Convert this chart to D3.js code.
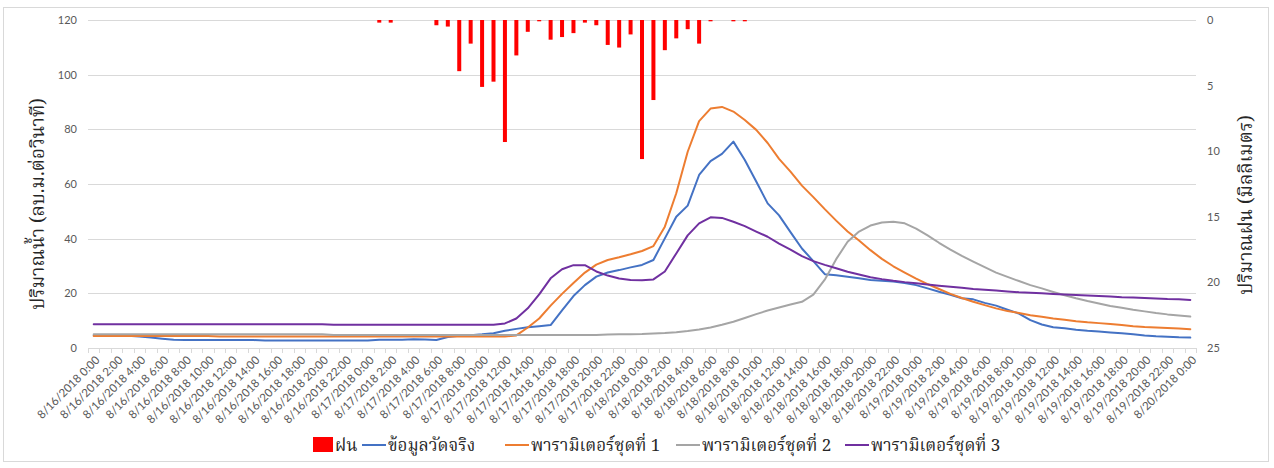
<!DOCTYPE html>
<html>
<head>
<meta charset="utf-8">
<script src="https://cdn.jsdelivr.net/npm/d3@7"></script>
<style>
  html, body { margin: 0; padding: 0; background: #fff; }
  svg { display: block; }
  .num { font-family: Lato, "Liberation Sans", sans-serif; fill: #595959; }
  .thai { font-family: "Noto Serif Thai", "Noto Sans Thai", "Loma", "Garuda", "Norasi", "Tlwg Typo", "Noto Sans", "DejaVu Sans", serif; fill: #262626; }
</style>
</head>
<body>
<svg id="chart" width="1274" height="468"></svg>
<script>
// Hourly flow (m3/s) and rainfall (mm), 8/16/2018 0:00 → 8/20/2018 0:00
const tickLabels = [
  "8/16/2018 0:00","8/16/2018 2:00","8/16/2018 4:00","8/16/2018 6:00","8/16/2018 8:00","8/16/2018 10:00",
  "8/16/2018 12:00","8/16/2018 14:00","8/16/2018 16:00","8/16/2018 18:00","8/16/2018 20:00","8/16/2018 22:00",
  "8/17/2018 0:00","8/17/2018 2:00","8/17/2018 4:00","8/17/2018 6:00","8/17/2018 8:00","8/17/2018 10:00",
  "8/17/2018 12:00","8/17/2018 14:00","8/17/2018 16:00","8/17/2018 18:00","8/17/2018 20:00","8/17/2018 22:00",
  "8/18/2018 0:00","8/18/2018 2:00","8/18/2018 4:00","8/18/2018 6:00","8/18/2018 8:00","8/18/2018 10:00",
  "8/18/2018 12:00","8/18/2018 14:00","8/18/2018 16:00","8/18/2018 18:00","8/18/2018 20:00","8/18/2018 22:00",
  "8/19/2018 0:00","8/19/2018 2:00","8/19/2018 4:00","8/19/2018 6:00","8/19/2018 8:00","8/19/2018 10:00",
  "8/19/2018 12:00","8/19/2018 14:00","8/19/2018 16:00","8/19/2018 18:00","8/19/2018 20:00","8/19/2018 22:00",
  "8/20/2018 0:00"
];

// rainfall, mm per hour
const rain = [
  0,0,0,0,0,0,0,0,0,0, 0,0,0,0,0,0,0,0,0,0,
  0,0,0,0,0,0.2,0.2,0,0,0, 0.4,0.5,3.9,1.8,5.1,4.7,9.3,2.7,0.9,0.1,
  1.5,1.3,1.0,0.2,0.4,1.9,2.1,1.1,10.6,6.1, 2.3,1.4,0.7,1.8,0.1,0,0.1,0.1,0,0,
  0,0,0,0,0,0,0,0,0,0, 0,0,0,0,0,0,0,0,0,0,
  0,0,0,0,0,0,0,0,0,0, 0,0,0,0,0,0,0
];

// observed flow
const observed = [
  4.7,4.7,4.7,4.5,4.2,3.8,3.4,3.0,2.9,2.9, 2.9,2.9,2.9,2.9,2.9,2.7,2.7,2.7,2.7,2.7,
  2.7,2.7,2.7,2.7,2.7,3.0,3.0,3.0,3.2,3.1, 2.9,4.0,4.5,4.7,5.0,5.4,6.3,7.0,7.6,8.0,
  8.4,13.8,19.0,23.0,26.1,27.6,28.5,29.5,30.4,32.2, 40.1,48.0,52.1,63.3,68.4,71.0,75.5,68.8,60.9,52.9,
  48.5,42.4,36.4,31.8,27.0,26.6,26.1,25.5,24.9,24.6, 24.3,23.8,23.0,21.8,20.6,19.5,18.2,17.8,16.5,15.5,
  14.0,12.6,10.2,8.6,7.6,7.2,6.7,6.3,6.0,5.7, 5.4,5.0,4.6,4.3,4.1,3.9,3.8
];

// parameter set 1
const param1 = [
  4.4,4.4,4.4,4.4,4.4,4.4,4.4,4.4,4.4,4.4, 4.4,4.2,4.2,4.2,4.2,4.2,4.2,4.2,4.2,4.2,
  4.2,4.2,4.2,4.2,4.2,4.2,4.2,4.2,4.2,4.2, 4.2,4.2,4.2,4.2,4.2,4.2,4.2,4.6,7.5,10.8,
  15.5,19.8,23.8,27.6,30.5,32.2,33.2,34.3,35.5,37.3, 44.4,56.6,71.8,83.0,87.6,88.2,86.5,83.4,79.8,75.0,
  69.2,64.5,59.4,55.2,50.8,46.6,42.6,39.3,35.8,32.6, 29.9,27.6,25.4,23.4,21.6,19.8,18.3,16.9,15.7,14.5,
  13.5,12.8,12.0,11.4,10.8,10.3,9.8,9.4,9.1,8.8, 8.4,8.0,7.7,7.5,7.3,7.1,6.9
];

// parameter set 2
const param2 = [
  5.0,5.0,5.0,5.0,5.0,5.0,5.0,5.0,5.0,5.0, 5.0,5.0,5.0,5.0,5.0,5.0,5.0,5.0,5.0,5.0,
  5.0,4.8,4.8,4.8,4.8,4.8,4.8,4.8,4.8,4.8, 4.8,4.8,4.8,4.8,4.8,4.8,4.8,4.8,4.8,4.8,
  4.8,4.8,4.8,4.8,4.8,4.9,5.0,5.0,5.1,5.3, 5.5,5.8,6.2,6.8,7.5,8.5,9.6,11.0,12.4,13.7,
  14.8,15.9,16.9,19.5,25.0,32.5,38.9,42.6,44.8,45.9, 46.2,45.6,43.7,41.2,38.5,36.0,33.7,31.6,29.6,27.6,
  26.0,24.5,23.0,21.8,20.5,19.3,18.2,17.2,16.3,15.4, 14.7,14.0,13.4,12.8,12.3,11.9,11.5
];

// parameter set 3
const param3 = [
  8.7,8.7,8.7,8.7,8.7,8.7,8.7,8.7,8.7,8.7, 8.7,8.7,8.7,8.7,8.7,8.7,8.7,8.7,8.7,8.7,
  8.7,8.5,8.5,8.5,8.5,8.5,8.5,8.5,8.5,8.5, 8.5,8.5,8.5,8.5,8.5,8.5,9.0,10.8,14.5,19.6,
  25.5,28.8,30.3,30.3,28.0,26.5,25.4,24.9,24.8,25.1, 28.0,34.6,41.2,45.6,47.8,47.6,46.2,44.6,42.6,40.7,
  38.2,36.0,33.6,31.8,30.4,29.2,27.9,26.9,25.9,25.2, 24.6,24.1,23.7,23.2,22.8,22.4,22.0,21.6,21.3,21.0,
  20.7,20.4,20.2,20.0,19.8,19.6,19.4,19.2,19.0,18.8, 18.6,18.5,18.3,18.1,17.9,17.8,17.6
];

const flowTicks = [0, 20, 40, 60, 80, 100, 120];
const rainTicks = [0, 5, 10, 15, 20, 25];

const seriesNames = ["ข้อมูลวัดจริง", "พารามิเตอร์ชุดที่ 1", "พารามิเตอร์ชุดที่ 2", "พารามิเตอร์ชุดที่ 3"];
const seriesColors = ["#4472c4", "#ed7d31", "#a5a5a5", "#7030a0"];
const rainName = "ฝน";
const rainColor = "#ff0000";

const leftTitle = "ปริมาณน้ำ (ลบ.ม.ต่อวินาที)";
const rightTitle = "ปริมาณฝน (มิลลิเมตร)";

const svg = d3.select("#chart");
const plot = { left: 88, right: 1196, top: 20, bottom: 348 };

// outer chart border
svg.append("rect")
  .attr("x", 3.5).attr("y", 7.5).attr("width", 1265).attr("height", 454)
  .attr("fill", "#fff").attr("stroke", "#d9d9d9").attr("stroke-width", 1);

const idx = d3.range(observed.length);
const x = d3.scaleBand().domain(idx).range([plot.left, plot.right]).paddingInner(0).paddingOuter(0);
const cx = i => x(i) + x.bandwidth() / 2;
const yL = d3.scaleLinear().domain([0, 120]).range([plot.bottom, plot.top]);
const yR = d3.scaleLinear().domain([0, 25]).range([plot.top, plot.bottom]);

// horizontal gridlines
svg.append("g")
  .selectAll("line").data(flowTicks).join("line")
  .attr("x1", plot.left).attr("x2", plot.right)
  .attr("y1", d => Math.round(yL(d)) + 0.5).attr("y2", d => Math.round(yL(d)) + 0.5)
  .attr("stroke", "#d9d9d9").attr("stroke-width", 1);

// left axis
const axL = svg.append("g").attr("transform", `translate(${plot.left},0)`)
  .call(d3.axisLeft(yL).tickValues(flowTicks).tickSize(0).tickPadding(11));
axL.select(".domain").remove();
axL.selectAll("text").attr("class", "num").style("font-size", "11px");

// right axis
const axR = svg.append("g").attr("transform", `translate(${plot.right},0)`)
  .call(d3.axisRight(yR).tickValues(rainTicks).tickSize(0).tickPadding(11));
axR.select(".domain").remove();
axR.selectAll("text").attr("class", "num").style("font-size", "11px");

// bottom axis with a tick at every category boundary
const boundaries = d3.range(observed.length + 1).map(i => plot.left + i * x.bandwidth());
const axB = svg.append("g");
axB.append("line")
  .attr("x1", plot.left).attr("x2", plot.right)
  .attr("y1", plot.bottom + 0.5).attr("y2", plot.bottom + 0.5)
  .attr("stroke", "#d9d9d9");
axB.selectAll("line.tk").data(boundaries).join("line").attr("class", "tk")
  .attr("x1", d => Math.round(d) + 0.5).attr("x2", d => Math.round(d) + 0.5)
  .attr("y1", plot.bottom).attr("y2", plot.bottom + 5)
  .attr("stroke", "#d9d9d9");

// rotated category labels every second hour
axB.selectAll("text").data(tickLabels).join("text")
  .attr("class", "num")
  .style("font-size", "11.5px")
  .attr("text-anchor", "end")
  .attr("transform", (d, k) => `translate(${cx(k * 2) + 4},${plot.bottom + 10}) rotate(-45)`)
  .attr("dy", "0.35em")
  .text(d => d);

// rainfall bars hanging from the top
const barW = 4;
svg.append("g").selectAll("rect").data(idx.filter(i => rain[i] > 0)).join("rect")
  .attr("x", i => cx(i) - barW / 2)
  .attr("y", yR(0))
  .attr("width", barW)
  .attr("height", i => yR(rain[i]) - yR(0))
  .attr("fill", rainColor);

// flow lines
const allSeries = [observed, param1, param2, param3];
const line = d3.line().x((d, i) => cx(i)).y(d => yL(d));
allSeries.forEach((s, k) => {
  svg.append("path")
    .datum(s)
    .attr("d", line)
    .attr("fill", "none")
    .attr("stroke", seriesColors[k])
    .attr("stroke-width", 2)
    .attr("stroke-linejoin", "round")
    .attr("stroke-linecap", "round");
});

// axis titles
svg.append("text").attr("class", "thai")
  .attr("transform", `translate(44,${(plot.top + plot.bottom) / 2 + 20}) rotate(-90)`)
  .attr("text-anchor", "middle")
  .style("font-size", "19px")
  .text(leftTitle);

svg.append("text").attr("class", "thai")
  .attr("transform", `translate(1252,${(plot.top + plot.bottom) / 2 + 21}) rotate(-90)`)
  .attr("text-anchor", "middle")
  .style("font-size", "19px")
  .text(rightTitle);

// legend
const legend = svg.append("g").attr("transform", "translate(0,445)");
const lg0 = legend.append("g").attr("transform", "translate(313,0)");
lg0.append("rect").attr("x", 0).attr("y", -8).attr("width", 20).attr("height", 15).attr("fill", rainColor);
lg0.append("text").attr("class", "thai").attr("x", 22).attr("dy", "0.35em").style("font-size", "17px").text(rainName);

const legendX = [362, 505, 676, 845];
seriesNames.forEach((n, s) => {
  const g = legend.append("g").attr("transform", `translate(${legendX[s]},0)`);
  g.append("line").attr("x1", 0).attr("x2", 24).attr("y1", 0).attr("y2", 0)
    .attr("stroke", seriesColors[s]).attr("stroke-width", 2);
  g.append("text").attr("class", "thai").attr("x", 26).attr("dy", "0.35em")
    .style("font-size", "17px").text(n);
});
</script>
</body>
</html>
